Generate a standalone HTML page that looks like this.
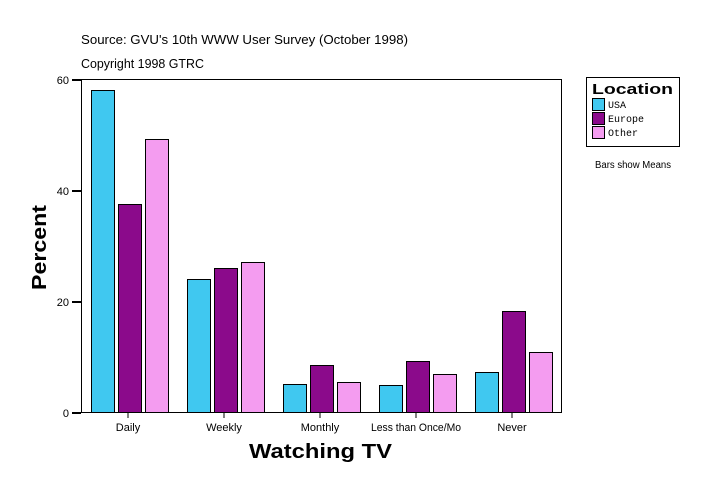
<!DOCTYPE html>
<html><head><style>body{margin:0;background:#fff}</style></head><body>
<svg width="724" height="496" xmlns="http://www.w3.org/2000/svg" font-family="Liberation Sans, sans-serif">
<rect width="724" height="496" fill="#fff"/>
<text x="81" y="44" font-size="13" textLength="327" lengthAdjust="spacingAndGlyphs">Source: GVU's 10th WWW User Survey (October 1998)</text>
<text x="81" y="68" font-size="13" textLength="123" lengthAdjust="spacingAndGlyphs">Copyright 1998 GTRC</text>
<rect x="81.5" y="79.5" width="480" height="333" fill="#fff" stroke="#000"/>
<g font-size="11" text-anchor="end" stroke-width="2">
<line x1="72" y1="80" x2="81" y2="80" stroke="#000"/><text x="69" y="84">60</text>
<line x1="72" y1="191" x2="81" y2="191" stroke="#000"/><text x="69" y="195">40</text>
<line x1="72" y1="302" x2="81" y2="302" stroke="#000"/><text x="69" y="306">20</text>
<line x1="72" y1="413" x2="81" y2="413" stroke="#000"/><text x="69" y="417">0</text>
</g>
<g stroke="#000" stroke-width="1">
<rect x="91.5" y="90.5" width="23" height="322" fill="#40C8F0"/>
<rect x="118.5" y="204.5" width="23" height="208" fill="#8B0A8B"/>
<rect x="145.5" y="139.5" width="23" height="273" fill="#F49CF0"/>
<rect x="187.5" y="279.5" width="23" height="133" fill="#40C8F0"/>
<rect x="214.5" y="268.5" width="23" height="144" fill="#8B0A8B"/>
<rect x="241.5" y="262.5" width="23" height="150" fill="#F49CF0"/>
<rect x="283.5" y="384.5" width="23" height="28" fill="#40C8F0"/>
<rect x="310.5" y="365.5" width="23" height="47" fill="#8B0A8B"/>
<rect x="337.5" y="382.5" width="23" height="30" fill="#F49CF0"/>
<rect x="379.5" y="385.5" width="23" height="27" fill="#40C8F0"/>
<rect x="406.5" y="361.5" width="23" height="51" fill="#8B0A8B"/>
<rect x="433.5" y="374.5" width="23" height="38" fill="#F49CF0"/>
<rect x="475.5" y="372.5" width="23" height="40" fill="#40C8F0"/>
<rect x="502.5" y="311.5" width="23" height="101" fill="#8B0A8B"/>
<rect x="529.5" y="352.5" width="23" height="60" fill="#F49CF0"/>
</g>
<g font-size="11" text-anchor="middle">
<line x1="128" y1="413" x2="128" y2="418" stroke="#000"/><text x="128" y="431">Daily</text>
<line x1="224" y1="413" x2="224" y2="418" stroke="#000"/><text x="224" y="431">Weekly</text>
<line x1="320" y1="413" x2="320" y2="418" stroke="#000"/><text x="320" y="431">Monthly</text>
<line x1="416" y1="413" x2="416" y2="418" stroke="#000"/><text x="416" y="431" textLength="90" lengthAdjust="spacingAndGlyphs">Less than Once/Mo</text>
<line x1="512" y1="413" x2="512" y2="418" stroke="#000"/><text x="512" y="431">Never</text>
</g>
<text x="249" y="458" font-size="20" font-weight="bold" textLength="143" lengthAdjust="spacingAndGlyphs">Watching TV</text>
<text transform="translate(46,290) rotate(-90)" font-size="20" font-weight="bold" textLength="85" lengthAdjust="spacingAndGlyphs">Percent</text>
<rect x="586.5" y="77.5" width="93" height="69" fill="#fff" stroke="#000"/>
<text x="592" y="94" font-size="15" font-weight="bold" textLength="81" lengthAdjust="spacingAndGlyphs">Location</text>
<g font-family="Liberation Mono, monospace" font-size="10" stroke="#000">
<rect x="592.5" y="98.5" width="12" height="12" fill="#40C8F0"/><text x="608" y="108" stroke="none">USA</text>
<rect x="592.5" y="112.5" width="12" height="12" fill="#8B0A8B"/><text x="608" y="122" stroke="none">Europe</text>
<rect x="592.5" y="126.5" width="12" height="12" fill="#F49CF0"/><text x="608" y="136" stroke="none">Other</text>
</g>
<text x="595" y="168" font-size="10" textLength="76" lengthAdjust="spacingAndGlyphs">Bars show Means</text>
</svg>
</body></html>
